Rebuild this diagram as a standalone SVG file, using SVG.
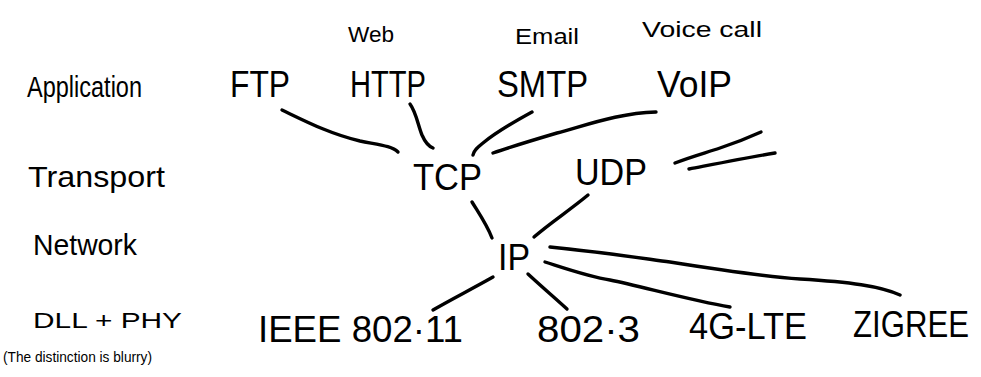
<svg xmlns="http://www.w3.org/2000/svg" width="981" height="377" viewBox="0 0 981 377">
  <style>
    text { font-family: "Liberation Sans", "DejaVu Sans", sans-serif; fill: #000; }
    .layer { font-size: 30px; }
    .proto { font-size: 36px; }
    .note { font-size: 22px; }
    .link { fill: none; stroke: #000; stroke-width: 3.4; stroke-linecap: round; stroke-linejoin: round; }
  </style>
  <rect width="981" height="377" fill="#fff"/>

  <!-- layer names on the left -->
  <g id="layer-application"><text class="layer" x="27" y="97" textLength="115" lengthAdjust="spacingAndGlyphs">Application</text></g>
  <g id="layer-transport"><text class="layer" x="28" y="187" textLength="137" lengthAdjust="spacingAndGlyphs">Transport</text></g>
  <g id="layer-network"><text class="layer" x="33" y="255" textLength="104" lengthAdjust="spacingAndGlyphs">Network</text></g>
  <g id="layer-dll-phy">
    <text x="33" y="328" font-size="22" textLength="149" lengthAdjust="spacingAndGlyphs">DLL + PHY</text>
    <text x="3" y="362" font-size="15" textLength="149" lengthAdjust="spacingAndGlyphs">(The distinction is blurry)</text>
  </g>

  <!-- application protocols -->
  <g id="ftp"><text class="proto" x="230" y="97" textLength="60" lengthAdjust="spacingAndGlyphs">FTP</text></g>
  <g id="http">
    <text class="note" x="348" y="42" font-size="18" textLength="46" lengthAdjust="spacingAndGlyphs">Web</text>
    <text class="proto" x="350" y="97" textLength="76" lengthAdjust="spacingAndGlyphs">HTTP</text>
  </g>
  <g id="smtp">
    <text class="note" x="515" y="44" textLength="64" lengthAdjust="spacingAndGlyphs">Email</text>
    <text class="proto" x="497" y="97" textLength="91" lengthAdjust="spacingAndGlyphs">SMTP</text>
  </g>
  <g id="voip">
    <text class="note" x="642" y="37" textLength="120" lengthAdjust="spacingAndGlyphs">Voice call</text>
    <text class="proto" x="657" y="97" font-size="40" textLength="75" lengthAdjust="spacingAndGlyphs">VoIP</text>
  </g>

  <!-- transport protocols -->
  <g id="tcp"><text class="proto" x="413" y="190" font-size="34" textLength="69" lengthAdjust="spacingAndGlyphs">TCP</text></g>
  <g id="udp"><text class="proto" x="575" y="185" font-size="34" textLength="72" lengthAdjust="spacingAndGlyphs">UDP</text></g>

  <!-- network protocol -->
  <g id="ip"><text class="proto" x="498" y="270" font-size="31" textLength="32" lengthAdjust="spacingAndGlyphs">IP</text></g>

  <!-- link / physical technologies -->
  <g id="ieee-80211"><text class="proto" x="258" y="342" font-size="32" textLength="205" lengthAdjust="spacingAndGlyphs">IEEE 802·11</text></g>
  <g id="ieee-8023"><text class="proto" x="537" y="342" font-size="38" textLength="103" lengthAdjust="spacingAndGlyphs">802·3</text></g>
  <g id="lte"><text class="proto" x="689" y="339" font-size="38" textLength="118" lengthAdjust="spacingAndGlyphs">4G-LTE</text></g>
  <g id="zigbee"><text class="proto" x="853" y="337" font-size="31" textLength="116" lengthAdjust="spacingAndGlyphs">ZIGREE</text></g>

  <!-- connectors -->
  <g id="connectors">
    <path class="link" d="M282,110 C305,121 330,134 360,141 C380,145 392,146 398,152"/>
    <path class="link" d="M410,104 C416,112 418,125 422,135 C425,142 428,146 433,148"/>
    <path class="link" d="M532,112 C510,124 495,133 483,143 C478,147 474,150 473,155"/>
    <path class="link" d="M656,112 C620,113 590,124 557,133 C530,141 510,147 493,153"/>
    <path class="link" d="M675,163 C690,157 705,153 720,148 C735,143 750,137 761,132"/>
    <path class="link" d="M689,169 C715,164 745,158 775,153"/>
    <path class="link" d="M588,195 C570,210 550,223 534,237"/>
    <path class="link" d="M472,202 C480,215 487,225 492,238"/>
    <path class="link" d="M493,277 C470,290 450,300 433,310"/>
    <path class="link" d="M528,274 C542,287 555,298 567,309"/>
    <path class="link" d="M545,262 C570,270 590,277 610,280 C640,286 690,300 730,307"/>
    <path class="link" d="M550,247 C600,252 640,258 670,262 C720,270 760,276 800,279 C850,282 880,286 900,295"/>
  </g>
</svg>
